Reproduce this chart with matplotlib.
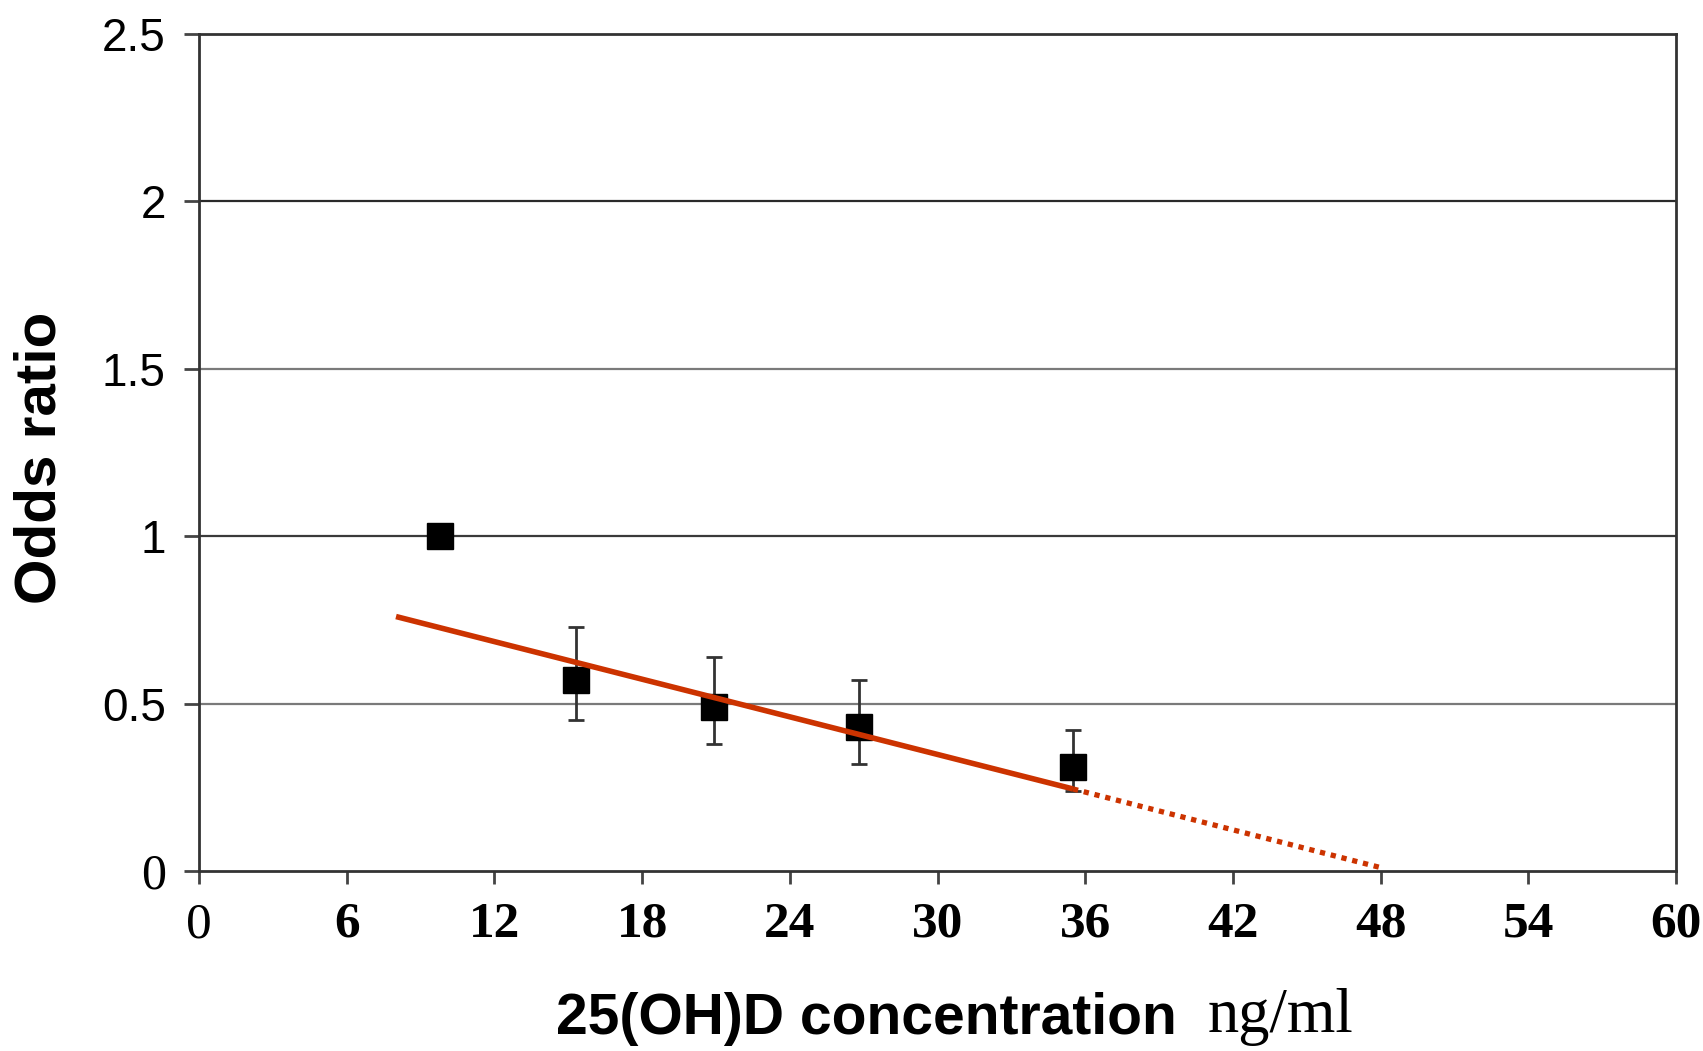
import matplotlib
matplotlib.use("Agg")
import matplotlib.pyplot as plt

# data
conc = [9.8, 15.3, 20.9, 26.8, 35.5]
odds = [1.0, 0.57, 0.49, 0.43, 0.31]
err_hi = [1.0, 0.73, 0.64, 0.57, 0.42]
err_lo = [1.0, 0.45, 0.38, 0.32, 0.24]

fit_x = [8.0, 35.5]
fit_y = [0.76, 0.245]
extra_x = [35.5, 48.0]
extra_y = [0.245, 0.01]

xticks = [0, 6, 12, 18, 24, 30, 36, 42, 48, 54, 60]
yticks = [0, 0.5, 1, 1.5, 2, 2.5]
ylabels = ["0", "0.5", "1", "1.5", "2", "2.5"]

RED = "#cc3300"

fig = plt.figure(figsize=(17.03, 10.51), dpi=100)
ax = fig.add_axes([0.1169, 0.1713, 0.8673, 0.7963])

# horizontal grid lines
for y, c in zip([0.5, 1, 1.5, 2], ["#7a7a7a", "#3a3a3a", "#7a7a7a", "#2a2a2a"]):
    ax.axhline(y, color=c, lw=1.6, zorder=1)

yerr = [[o - l for o, l in zip(odds, err_lo)], [h - o for o, h in zip(odds, err_hi)]]
ax.errorbar(conc, odds, yerr=yerr, fmt="none", ecolor="#333333", elinewidth=2,
            capsize=6, capthick=2, zorder=3)
ax.plot(conc, odds, ls="none", marker="s", ms=19, color="black", zorder=4)

ax.plot(fit_x, fit_y, color=RED, lw=4.0, solid_capstyle="butt", zorder=5)
ax.plot(extra_x, extra_y, color=RED, lw=3.8, ls=(0, (1.0, 1.1)), zorder=5)

ax.set_xlim(0, 60)
ax.set_ylim(0, 2.5)

for s in ax.spines.values():
    s.set_color("#333333")
    s.set_linewidth(2)

ax.set_xticks(xticks)
ax.set_xticklabels([str(v) for v in xticks])
ax.set_yticks(yticks)
ax.set_yticklabels(ylabels)
ax.tick_params(axis="x", direction="out", length=9, width=2, color="#444444", pad=13)
ax.tick_params(axis="y", direction="out", length=11, width=2, color="#444444", pad=13)

for lab in ax.get_xticklabels():
    lab.set_fontfamily("Liberation Serif")
    lab.set_fontsize(37)
    lab.set_fontweight("normal" if lab.get_text() == "0" else "bold")
for lab in ax.get_yticklabels():
    if lab.get_text() == "0":
        lab.set_fontfamily("Liberation Serif")
        lab.set_fontsize(36)
    else:
        lab.set_fontfamily("Liberation Sans")
        lab.set_fontsize(33)

fig.text(0.0235, 0.564, "Odds ratio", rotation=90, ha="center", va="center",
         fontfamily="Liberation Sans", fontweight="bold", fontsize=42)
fig.text(0.5085, 0.016, "25(OH)D concentration", ha="center", va="baseline",
         fontfamily="Liberation Sans", fontweight="bold", fontsize=41)
fig.text(0.709, 0.018, "ng/ml", ha="left", va="baseline",
         fontfamily="Liberation Serif", fontsize=45)

fig.savefig("out.png", dpi=100)
